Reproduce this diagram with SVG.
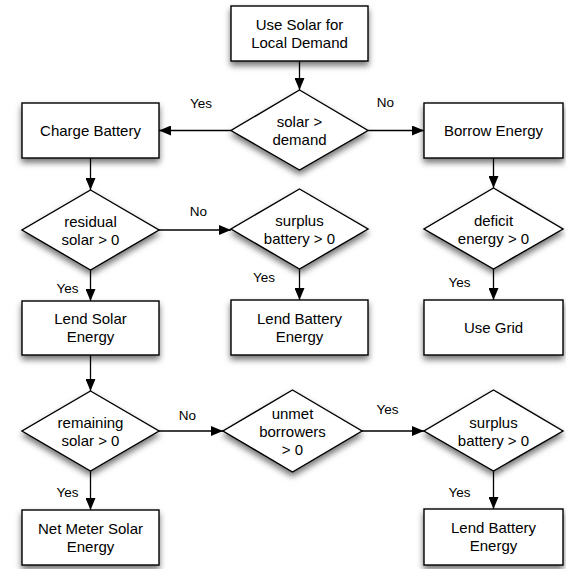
<svg xmlns="http://www.w3.org/2000/svg" width="566" height="569" viewBox="0 0 566 569">
<style>
.n{fill:#fff;stroke:#000;stroke-width:1.4;filter:url(#sh)}
.t{font-family:"Liberation Sans",Arial,sans-serif;font-size:15px;fill:#000;text-anchor:middle}
.l{font-family:"Liberation Sans",Arial,sans-serif;font-size:13.5px;fill:#000;text-anchor:middle}
.c{fill:none;stroke:#000;stroke-width:1.3;marker-end:url(#ah)}
</style>
<defs>
<filter id="sh" x="-20%" y="-20%" width="140%" height="160%">
<feDropShadow dx="0" dy="4" stdDeviation="3" flood-color="#000" flood-opacity="0.55"/>
</filter>
<marker id="ah" viewBox="0 0 12 10" refX="12" refY="5" markerWidth="12" markerHeight="10" markerUnits="userSpaceOnUse" orient="auto">
<path d="M0,0 L12,5 L0,10 Z" fill="#000"/>
</marker>
</defs>
<rect width="566" height="569" fill="#fff"/>
<g id="connectors">
<path class="c" d="M299.5,61 V90"/>
<path class="c" d="M231,130.5 H159"/>
<path class="c" d="M368,130.5 H424"/>
<path class="c" d="M90.5,158 V190"/>
<path class="c" d="M159,230 H231"/>
<path class="c" d="M493.5,158 V188"/>
<path class="c" d="M90.5,270 V301"/>
<path class="c" d="M299.5,269 V300"/>
<path class="c" d="M493.5,269 V300"/>
<path class="c" d="M90.5,355 V391"/>
<path class="c" d="M159,431 H223"/>
<path class="c" d="M362,431 H424"/>
<path class="c" d="M90.5,471 V510"/>
<path class="c" d="M493.5,471 V509"/>
<text class="l" x="201" y="108">Yes</text>
<text class="l" x="385.5" y="107">No</text>
<text class="l" x="198.5" y="216">No</text>
<text class="l" x="264" y="282">Yes</text>
<text class="l" x="459.5" y="287">Yes</text>
<text class="l" x="67.5" y="293">Yes</text>
<text class="l" x="187.5" y="420">No</text>
<text class="l" x="387.5" y="414">Yes</text>
<text class="l" x="67.5" y="497">Yes</text>
<text class="l" x="459.5" y="497">Yes</text>
</g>
<g id="start">
<rect class="n" x="231" y="6" width="137" height="55"/>
<text class="t" x="299.5" y="30">Use Solar for</text>
<text class="t" x="299.5" y="48">Local Demand</text>
</g>
<g id="d_solar_demand">
<polygon class="n" points="299.5,90 368,130.5 299.5,170 231,130.5"/>
<text class="t" x="299.5" y="127">solar &gt;</text>
<text class="t" x="299.5" y="145">demand</text>
</g>
<g id="charge_battery">
<rect class="n" x="22" y="103" width="137" height="55"/>
<text class="t" x="90.5" y="136">Charge Battery</text>
</g>
<g id="borrow_energy">
<rect class="n" x="424" y="103" width="139" height="55"/>
<text class="t" x="493.5" y="136">Borrow Energy</text>
</g>
<g id="d_residual">
<polygon class="n" points="90.5,190 159,230 90.5,270 22,230"/>
<text class="t" x="90.5" y="227">residual</text>
<text class="t" x="90.5" y="245">solar &gt; 0</text>
</g>
<g id="d_surplus1">
<polygon class="n" points="299.5,189 368,229 299.5,269 231,229"/>
<text class="t" x="299.5" y="226">surplus</text>
<text class="t" x="299.5" y="244">battery &gt; 0</text>
</g>
<g id="d_deficit">
<polygon class="n" points="493.5,188 563,229 493.5,269 424,229"/>
<text class="t" x="493.5" y="226">deficit</text>
<text class="t" x="493.5" y="244">energy &gt; 0</text>
</g>
<g id="lend_solar">
<rect class="n" x="22" y="301" width="137" height="54"/>
<text class="t" x="90.5" y="324">Lend Solar</text>
<text class="t" x="90.5" y="342">Energy</text>
</g>
<g id="lend_battery1">
<rect class="n" x="231" y="300" width="137" height="55"/>
<text class="t" x="299.5" y="323.5">Lend Battery</text>
<text class="t" x="299.5" y="341.5">Energy</text>
</g>
<g id="use_grid">
<rect class="n" x="424" y="300" width="139" height="55"/>
<text class="t" x="493.5" y="333">Use Grid</text>
</g>
<g id="d_remaining">
<polygon class="n" points="90.5,391 159,431 90.5,471 22,431"/>
<text class="t" x="90.5" y="427.5">remaining</text>
<text class="t" x="90.5" y="445.5">solar &gt; 0</text>
</g>
<g id="d_unmet">
<polygon class="n" points="292.5,390 362,431 292.5,472 223,431"/>
<text class="t" x="292.5" y="418.5">unmet</text>
<text class="t" x="292.5" y="436.5">borrowers</text>
<text class="t" x="292.5" y="454.5">&gt; 0</text>
</g>
<g id="d_surplus2">
<polygon class="n" points="493.5,390 563,431 493.5,471 424,431"/>
<text class="t" x="493.5" y="427.5">surplus</text>
<text class="t" x="493.5" y="445.5">battery &gt; 0</text>
</g>
<g id="net_meter">
<rect class="n" x="22" y="510" width="137" height="55"/>
<text class="t" x="90.5" y="533.5">Net Meter Solar</text>
<text class="t" x="90.5" y="551.5">Energy</text>
</g>
<g id="lend_battery2">
<rect class="n" x="424" y="509" width="139" height="56"/>
<text class="t" x="493.5" y="533">Lend Battery</text>
<text class="t" x="493.5" y="551">Energy</text>
</g>
</svg>
